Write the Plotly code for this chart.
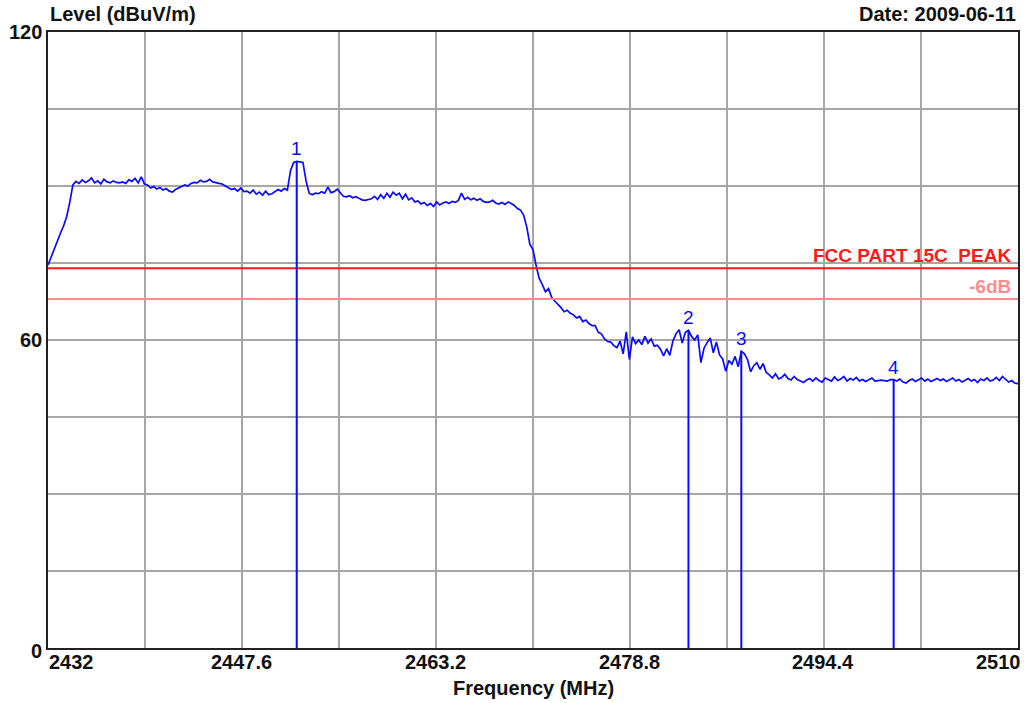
import numpy as np
import plotly.graph_objects as go

# Sweep settings (MHz)
f_start, f_stop = 2432.0, 2510.0

# Measured level (dBuV/m), 0.25 MHz per point from 2432 to 2510 MHz
level = [
    74.6, 76.2, 78.0, 79.4, 80.8, 82.2, 84.0, 86.8,   # 2432
    90.2, 90.9, 90.5, 91.2, 90.7, 91.0, 91.6, 90.6,   # 2434
    91.0, 90.4, 91.3, 90.8, 90.6, 91.0, 90.7, 90.6,   # 2436
    90.8, 90.5, 91.2, 90.9, 91.5, 90.6, 91.8, 90.4,   # 2438
    90.2, 89.6, 89.9, 89.4, 89.7, 89.2, 89.5, 89.0,   # 2440
    88.8, 89.3, 89.6, 89.8, 90.2, 90.0, 90.5, 90.7,   # 2442
    90.6, 91.1, 90.8, 90.9, 91.3, 90.8, 90.6, 90.5,   # 2444
    90.4, 90.0, 89.7, 89.3, 89.5, 89.0, 89.6, 88.9,   # 2446
    89.0, 88.6, 89.2, 88.4, 88.8, 88.2, 89.0, 88.3,   # 2448
    88.5, 88.9, 89.3, 89.0, 89.5, 89.2, 93.0, 94.6,   # 2450
    94.8, 94.7, 94.6, 91.0, 88.6, 88.3, 88.6, 88.5,   # 2452
    88.9, 88.6, 89.8, 88.7, 88.9, 89.4, 88.8, 88.0,   # 2454
    87.9, 88.1, 87.7, 87.9, 87.6, 87.3, 87.2, 87.4,   # 2456
    87.5, 88.0, 87.4, 88.3, 87.6, 88.6, 87.8, 88.8,   # 2458
    88.2, 88.6, 87.5, 88.4, 87.3, 87.7, 86.9, 87.1,   # 2460
    86.5, 86.8, 86.2, 86.6, 86.0, 86.9, 86.3, 86.7,   # 2462
    86.9, 86.6, 87.0, 86.8, 87.2, 88.6, 87.4, 87.8,   # 2464
    87.3, 87.6, 87.2, 87.5, 87.0, 86.8, 86.9, 87.2,   # 2466
    86.7, 86.5, 86.8, 86.4, 86.9, 86.6, 86.2, 85.6,   # 2468
    85.3, 84.3, 82.0, 78.6, 77.6, 74.5, 72.0, 70.8,   # 2470
    69.4, 70.0, 68.3, 67.6, 67.0, 66.3, 65.5, 65.8,   # 2472
    65.2, 64.9, 64.3, 64.6, 63.6, 63.9, 63.2, 62.8,   # 2474
    62.8, 61.5, 61.2, 60.2, 59.7, 59.6, 58.9, 58.5,   # 2476
    59.8, 57.3, 61.6, 56.2, 60.6, 59.3, 60.0, 59.1,   # 2478
    60.7, 59.4, 60.2, 58.8, 59.0, 58.2, 56.9, 58.3,   # 2480
    57.0, 59.8, 61.2, 62.0, 59.4, 61.5, 61.9, 60.7,   # 2482
    60.0, 61.0, 55.6, 58.4, 59.5, 60.4, 57.5, 59.6,   # 2484
    57.1, 56.3, 53.9, 56.0, 55.3, 56.8, 54.8, 57.8,   # 2486
    57.3, 56.2, 53.8, 55.0, 55.6, 54.3, 55.4, 53.7,   # 2488
    53.2, 52.6, 53.4, 52.4, 52.7, 53.3, 52.5, 52.2,   # 2490
    52.9, 52.3, 52.0, 51.7, 52.2, 52.5, 52.0, 52.6,   # 2492
    52.1, 51.8, 52.6, 52.3, 52.0, 52.8, 52.1, 52.4,   # 2494
    52.9, 52.0, 52.5, 52.2, 52.7, 52.0, 52.3, 51.9,   # 2496
    52.2, 52.6, 52.0, 52.1, 52.2, 52.1, 52.0, 52.3,   # 2498
    52.3, 52.0, 52.4, 51.8, 51.6, 52.1, 52.4, 51.9,   # 2500
    52.3, 52.6, 52.0, 52.4, 51.9, 52.2, 52.5, 52.1,   # 2502
    52.4, 51.9, 52.2, 52.6, 52.0, 52.3, 51.8, 52.1,   # 2504
    52.5, 52.0, 52.3, 51.7, 52.4, 52.1, 52.6, 52.0,   # 2506
    52.2, 52.7, 52.1, 52.9, 52.3, 51.8, 52.1, 51.6,   # 2508
    51.5,                                             # 2510
]
freq = np.linspace(f_start, f_stop, len(level))

# Markers
marker_names = ["1", "2", "3", "4"]
marker_freq = [2452.0, 2483.5, 2487.75, 2500.0]
marker_level = [94.8, 61.9, 57.8, 52.3]

# Limit lines (dBuV/m)
limit_names = ["FCC PART 15C  PEAK", "-6dB"]
limit_levels = [74.0, 68.0]
limit_colors = ["#ff1a1a", "#ff8c8c"]

# Axis ticks
xtick_labels = ["2432", "2447.6", "2463.2", "2478.8", "2494.4", "2510"]
x_grid_step = 7.8
y_grid_step = 15
ytick_labels = ["0", "60", "120"]

FONT = "Arial, Liberation Sans, sans-serif"
BLUE = "#0a0aff"
TEXT = "#111"

fig = go.Figure()

# Spectrum trace
fig.add_trace(go.Scatter(x=freq, y=level, mode="lines",
                         line=dict(color=BLUE, width=1.7), hoverinfo="skip"))

# Limit lines
for name, lv, col in zip(limit_names, limit_levels, limit_colors):
    fig.add_trace(go.Scatter(x=[f_start, f_stop], y=[lv, lv], mode="lines",
                             line=dict(color=col, width=2), hoverinfo="skip"))
    fig.add_annotation(x=f_stop, y=lv, xref="x", yref="y", text=f"<b>{name}</b>",
                       showarrow=False, xanchor="right", yanchor="bottom",
                       xshift=-5, yshift=0,
                       font=dict(family=FONT, size=19, color=col))

# Marker stems down to 0
mx, my = [], []
for f, lv in zip(marker_freq, marker_level):
    mx += [f, f, None]
    my += [lv, 0, None]
fig.add_trace(go.Scatter(x=mx, y=my, mode="lines",
                         line=dict(color=BLUE, width=2), hoverinfo="skip"))
for name, f, lv in zip(marker_names, marker_freq, marker_level):
    fig.add_annotation(x=f, y=lv, xref="x", yref="y", text=name, showarrow=False,
                       xanchor="center", yanchor="bottom", yshift=0,
                       font=dict(family=FONT, size=19, color=BLUE))

# X tick labels (ends aligned inward)
for i, t in enumerate(xtick_labels):
    anchor = "left" if i == 0 else ("right" if i == len(xtick_labels) - 1 else "center")
    fig.add_annotation(x=float(t), y=0, xref="x", yref="paper", text=f"<b>{t}</b>",
                       showarrow=False, xanchor=anchor, yanchor="top", yshift=-1,
                       xshift=5 if i == len(xtick_labels) - 1 else -1,
                       font=dict(family=FONT, size=20, color=TEXT))

# Y tick labels
for t in ytick_labels:
    fig.add_annotation(x=0, y=float(t), xref="paper", yref="y", text=f"<b>{t}</b>",
                       showarrow=False, xanchor="right", yanchor="middle", xshift=-4,
                       yshift=-3 if t == "0" else 0,
                       font=dict(family=FONT, size=20, color=TEXT))

# Titles
fig.add_annotation(x=0, y=1, xref="paper", yref="paper", text="<b>Level (dBuV/m)</b>",
                   showarrow=False, xanchor="left", yanchor="bottom", yshift=5,
                   font=dict(family=FONT, size=20, color=TEXT))
fig.add_annotation(x=1, y=1, xref="paper", yref="paper", text="<b>Date: 2009-06-11</b>",
                   showarrow=False, xanchor="right", yanchor="bottom", yshift=5,
                   font=dict(family=FONT, size=20, color=TEXT))
fig.add_annotation(x=0.5, y=0, xref="paper", yref="paper", text="<b>Frequency (MHz)</b>",
                   showarrow=False, xanchor="center", yanchor="top", yshift=-27,
                   font=dict(family=FONT, size=20, color=TEXT))

x_grid = [f_start + i * x_grid_step for i in range(int(round((f_stop - f_start) / x_grid_step)) + 1)]
y_grid = list(range(0, 121, y_grid_step))

fig.update_layout(
    width=1036, height=703,
    margin=dict(l=48, r=18, t=32, b=55, autoexpand=False),
    paper_bgcolor="white", plot_bgcolor="white",
    showlegend=False,
    font=dict(family=FONT, color=TEXT),
    xaxis=dict(range=[f_start, f_stop], tickvals=x_grid, showticklabels=False,
               showgrid=True, gridcolor="#a6a6a6", gridwidth=2, zeroline=False,
               showline=True, linecolor="#222", linewidth=2, mirror=True, ticks="",
               automargin=False),
    yaxis=dict(range=[0, 120], tickvals=y_grid, showticklabels=False,
               showgrid=True, gridcolor="#a6a6a6", gridwidth=2, zeroline=False,
               showline=True, linecolor="#222", linewidth=2, mirror=True, ticks="",
               automargin=False),
)

fig.write_html("out.html")
